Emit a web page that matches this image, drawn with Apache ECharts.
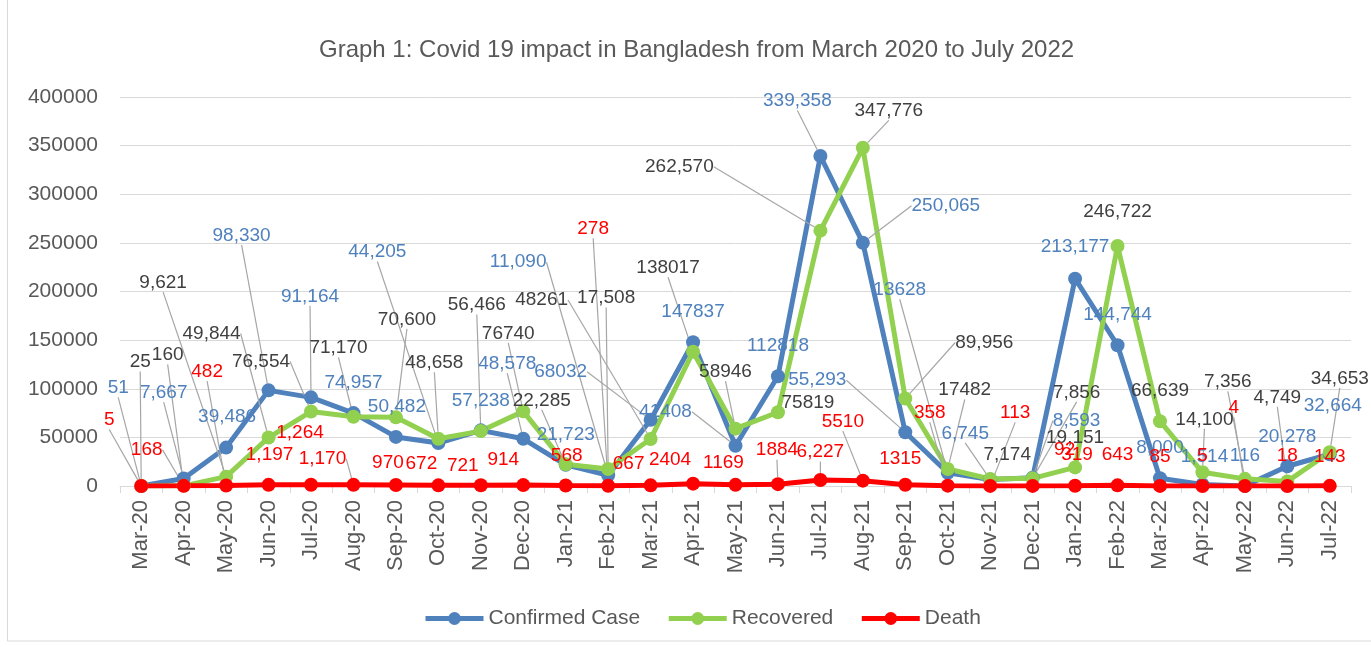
<!DOCTYPE html>
<html>
<head>
<meta charset="utf-8">
<script src="https://cdn.jsdelivr.net/npm/echarts@6/dist/echarts.min.js"></script>
<style>
  html, body { margin: 0; padding: 0; background: #ffffff; }
  #chart { width: 1371px; height: 647px; }
</style>
</head>
<body>
<div id="chart"></div>
<script>
// Monthly Covid-19 figures for Bangladesh, March 2020 – July 2022
const months = ['Mar-20','Apr-20','May-20','Jun-20','Jul-20','Aug-20','Sep-20','Oct-20','Nov-20','Dec-20',
  'Jan-21','Feb-21','Mar-21','Apr-21','May-21','Jun-21','Jul-21','Aug-21','Sep-21','Oct-21','Nov-21','Dec-21',
  'Jan-22','Feb-22','Mar-22','Apr-22','May-22','Jun-22','Jul-22'];

const confirmedCase = [51, 7667, 39486, 98330, 91164, 74957, 50482, 44205, 57238, 48578,
  21723, 11090, 68032, 147837, 41408, 112818, 339358, 250065, 55293, 13628, 6745, 8593,
  213177, 144744, 8000, 1514, 116, 20278, 32664];

const recovered = [25, 160, 9621, 49844, 76554, 71170, 70600, 48658, 56466, 76740,
  22285, 17508, 48261, 138017, 58946, 75819, 262570, 347776, 89956, 17482, 7174, 7856,
  19151, 246722, 66639, 14100, 7356, 4749, 34653];

const death = [5, 168, 482, 1197, 1264, 1170, 970, 672, 721, 914,
  568, 278, 667, 2404, 1169, 1884, 6227, 5510, 1315, 358, 113, 92,
  319, 643, 85, 5, 4, 18, 143];

const yMin = 0, yMax = 400000, yStep = 50000;

// Label placement (pixel shift of each value label from its point)
const confirmedShift = [[-23,-98],[-20,-86],[1,-31],[-27,-155],[-1,-101],[0,-30],[1,-30],[-61,-191],[0,-30],[-16,-75],
  [0,-30],[-90,-213],[-90,-48],[0,-30],[-70,-34],[0,-31],[-23,-55],[83,-37],[-88,-52],[-48,-183],[-25,-46],[44,-57],
  [0,-32],[0,-30],[0,-30],[2,-28],[0,-30],[0,-30],[3,-48]];
const recoveredShift = [[-1,-124],[-16,-131],[-63,-194],[-57,-104],[-50,-50],[-15,-69],[11,-98],[-4,-76],[-4,-126],[-15,-78],
  [-24,-64],[-2,-171],[-109,-139],[-25,-84],[-10,-57],[30,-10],[-141,-64],[26,-37],[79,-56],[17,-79],[17,-24],[44,-86],
  [0,-30],[0,-34],[0,-30],[2,-53],[-17,-97],[-10,-84],[10,-74]];
const deathShift = [[-32,-66],[-37,-36],[-19,-114],[1,-30],[-11,-52],[-31,-26],[-8,-22],[-17,-22],[-18,-20],[-20,-25],
  [1,-30],[-15,-257],[-22,-22],[-23,-24],[-12,-22],[-1,-34],[0,-28],[-20,-59],[-5,-26],[-18,-73],[25,-73],[32,-36],
  [2,-31],[0,-31],[0,-29],[0,-30],[-11,-78],[0,-30],[0,-29]];

// Labels that get a leader line back to their point
const confirmedLeaders = [0,1,3,4,7,9,11,12,14,16,17,18,19,20,21];
const recoveredLeaders = [0,1,2,3,4,5,6,7,8,9,10,11,12,13,14,16,17,18,19,21,25,26,27,28];
const deathLeaders = [0,1,2,5,11,15,16,17,19,20,26];

// Labels written without thousands separator
const confirmedPlain = [12,13,14,15,19];
const recoveredPlain = [9,12,13,14,15,19];
const deathPlain = [13,14,15,17,18];

const FONT = '"Liberation Sans", Arial, sans-serif';
const shifts = [confirmedShift, recoveredShift, deathShift];
const plains = [confirmedPlain, recoveredPlain, deathPlain];

function withComma(v) {
  return String(v).replace(/\B(?=(\d{3})+(?!\d))/g, ',');
}

function buildData(values, leaders) {
  return values.map(function (v, i) {
    return { value: v, labelLine: { show: leaders.indexOf(i) >= 0 } };
  });
}

function makeSeries(name, values, leaders, color, labelColor) {
  return {
    name: name,
    type: 'line',
    data: buildData(values, leaders),
    symbol: 'circle',
    symbolSize: 14,
    showAllSymbol: true,
    lineStyle: { width: 5, color: color },
    itemStyle: { color: color },
    label: {
      show: true,
      position: 'inside',
      align: 'center',
      verticalAlign: 'middle',
      color: labelColor,
      fontFamily: FONT,
      fontSize: 19,
      formatter: function (p) {
        return plains[p.seriesIndex].indexOf(p.dataIndex) >= 0 ? String(p.value) : withComma(p.value);
      }
    },
    labelLine: {
      show: false,
      lineStyle: { color: '#a6a6a6', width: 1.2 }
    },
    labelLayout: function (p) {
      const s = shifts[p.seriesIndex][p.dataIndex];
      return { dx: s[0], dy: s[1] };
    },
    emphasis: { disabled: true }
  };
}

const chart = echarts.init(document.getElementById('chart'), null, { renderer: 'canvas' });

chart.setOption({
  animation: false,
  backgroundColor: '#ffffff',
  title: {
    text: 'Graph 1: Covid 19 impact in Bangladesh from March 2020 to July 2022',
    left: 314,
    top: 33,
    textStyle: { fontFamily: FONT, fontSize: 24, fontWeight: 'normal', color: '#595959' }
  },
  legend: {
    left: 418,
    top: 603,
    itemWidth: 58,
    itemHeight: 16,
    itemGap: 26,
    lineStyle: { width: 5 },
    textStyle: { fontFamily: FONT, fontSize: 21, color: '#595959' },
    data: ['Confirmed Case', 'Recovered', 'Death']
  },
  grid: { left: 120, right: 20, top: 97, bottom: 161, containLabel: false },
  xAxis: {
    type: 'category',
    data: months,
    boundaryGap: true,
    axisLine: { lineStyle: { color: '#d9d9d9', width: 1 } },
    axisTick: { show: true, length: 7, lineStyle: { color: '#d9d9d9' } },
    axisLabel: {
      interval: 0,
      rotate: 90,
      margin: 14,
      color: '#595959',
      fontFamily: FONT,
      fontSize: 22
    }
  },
  yAxis: {
    type: 'value',
    min: yMin,
    max: yMax,
    interval: yStep,
    axisLine: { show: false },
    axisTick: { show: false },
    splitLine: { lineStyle: { color: '#d9d9d9', width: 1 } },
    axisLabel: {
      margin: 22,
      color: '#595959',
      fontFamily: FONT,
      fontSize: 21,
      formatter: function (v) { return String(v); }
    }
  },
  graphic: [{
    type: 'rect',
    shape: { x: 7.5, y: -5, width: 1380, height: 646 },
    style: { fill: 'none', stroke: '#d9d9d9', lineWidth: 1 },
    silent: true
  }],
  series: [
    makeSeries('Confirmed Case', confirmedCase, confirmedLeaders, '#4f81bd', '#4f81bd'),
    makeSeries('Recovered', recovered, recoveredLeaders, '#92d050', '#404040'),
    makeSeries('Death', death, deathLeaders, '#ff0000', '#ff0000')
  ]
});
</script>
</body>
</html>
